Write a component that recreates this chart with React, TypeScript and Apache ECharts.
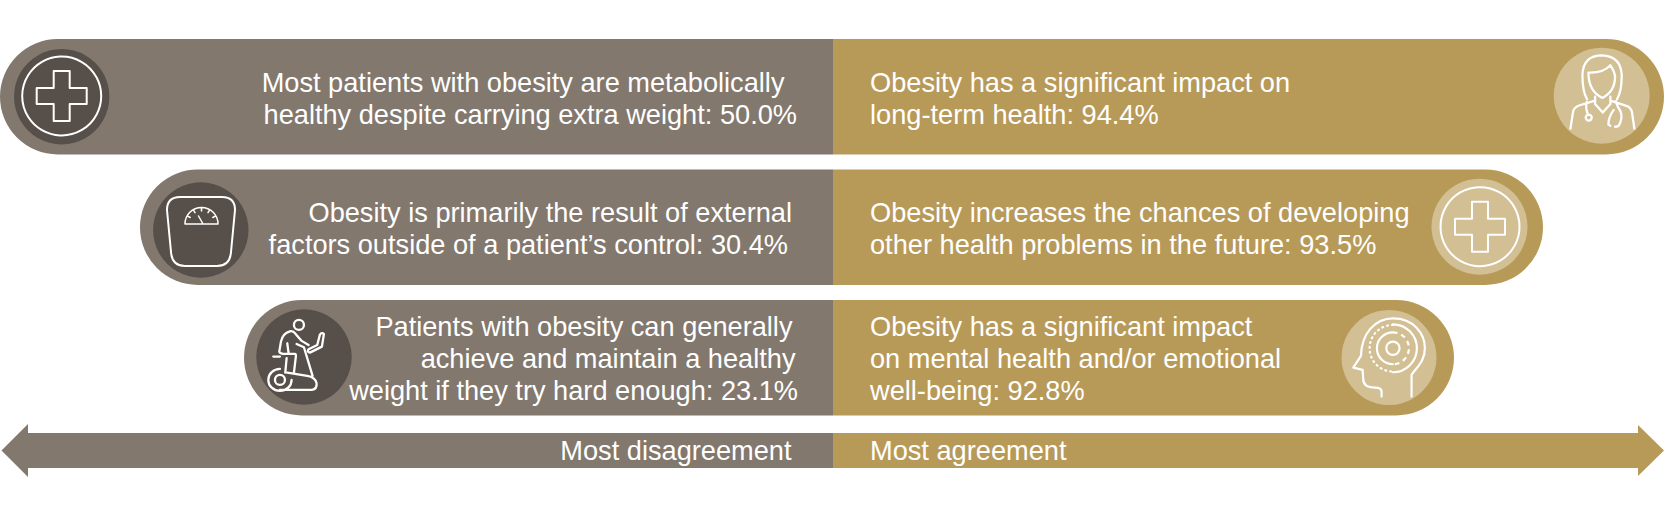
import React, { useEffect, useRef } from "react";
import * as echarts from "echarts";

const rowNames = ["row1", "row2", "row3"];
const disagreeLines = [
  ["Most patients with obesity are metabolically", "healthy despite carrying extra weight:"],
  ["Obesity is primarily the result of external", "factors outside of a patient’s control:"],
  ["Patients with obesity can generally", "achieve and maintain a healthy", "weight if they try hard enough:"],
];
const disagreePercent = ["50.0%", "30.4%", "23.1%"];
const agreeLines = [
  ["Obesity has a significant impact on", "long-term health:"],
  ["Obesity increases the chances of developing", "other health problems in the future:"],
  ["Obesity has a significant impact", "on mental health and/or emotional", "well-being:"],
];
const agreePercent = ["94.4%", "93.5%", "92.8%"];
const disagreeExtent = [-833, -693, -589];
const agreeExtent = [831, 710, 621];
const axisLabels = ["Most disagreement", "Most agreement"];

const GREY = "#82786E", DARK = "#574F49", GOLD = "#B89A58", LIGHT = "#D2BF94";
const FONT = "'Liberation Sans', Arial, sans-serif";
const FS = 27.2;

// right edge of each left-hand line, y of each line
const leftEdges = [[784.5, 797], [792, 788], [792.5, 795.5, 798]];
const lineYs = [[82.2, 114.2], [212.2, 244.2], [326.2, 358.2, 390.2]];
const RIGHT_X = 870;

const G = echarts.graphic as any;
const cross = "M-8 -25H8V-8H25V8H8V25H-8V8H-25V-8H-8Z";
G.registerShape("crossIcon", G.extendPath(cross, {}));
G.registerShape("scaleIcon", G.extendPath(
  "M180 197H222Q235 197 235 210L231 252Q230 266 217 266H185Q172 266 171 252L167 210Q167 197 180 197Z", {}));
G.registerShape("gaugeIcon", G.extendPath(
  "M185 224A16.5 16.5 0 0 1 218 224Z" +
  "M215.8 215.8L212.8 217.5M209.8 209.7L208 212.7M201.5 207.5V211M193.2 209.7L195 212.7M187.2 215.8L190.2 217.5M198.5 216L202.5 223", {}));
G.registerShape("bikeIcon", G.extendPath(
  "M222 105A15 15 0 1 1 192 105A15 15 0 1 1 222 105Z" +
  "M180 124Q158 130 153 155L148 185Q150 192 165 192H195Q198 192 198 198L192 248" +
  "M180 124Q190 122 197 132L214 152L236 165M172 160L176 190M130 200H150M170 205L166 248" +
  "M200 162L222 172L248 258" +
  "M236 178L262 165L270 134Q276 126 282 132L276 170L240 188Q230 186 236 178Z" +
  "M150 300H246Q262 298 260 280Q256 262 232 258L172 248" +
  "M185 270A35 33 0 1 1 150 237M185 270A35 33 0 0 1 150 303M165 270A15 15 0 1 1 135 270A15 15 0 1 1 165 270Z", {}));
G.registerShape("doctorIcon", G.extendPath(
  "M742 208Q728 185 728 135Q730 76 787 76Q843 78 846 135Q846 185 832 208" +
  "M746 128Q790 130 812 106Q825 125 826 140Q826 185 788 204Q746 185 746 128Z" +
  "M766 200V222L789 248L812 222V200" +
  "M692 296L700 245Q702 232 720 226L766 212M812 212L860 228Q874 232 877 248L884 296" +
  "M741 216Q736 235 745 254M756 263A9 9 0 1 1 738 263A9 9 0 1 1 756 263Z" +
  "M828 214Q834 232 842 244Q850 262 838 286Q832 292 826 290M822 240Q806 262 806 284L812 288", {}));
G.registerShape("headIcon", G.extendPath(
  "M245 320V305Q245 293 225 293Q190 293 190 268L188 240L160 233L183 198" +
  "C185 130 225 85 280 85C340 85 375 130 375 175C375 215 350 232 335 255V320" +
  "M259 175A20 20 0 1 1 299 175A20 20 0 1 1 259 175Z" +
  "M279 127A48 48 0 0 0 279 223M279 103A72 72 0 0 1 279 247", {}));
G.registerShape("headDash", G.extendPath("M279 127A48 48 0 0 1 279 223", {}));
G.registerShape("headDots", G.extendPath("M279 105A70 70 0 0 0 279 245", {}));

function textEl(text: string, x: number, y: number, align: string) {
  return { type: "text", z: 20, x, y, style: { text, fill: "#fff", fontSize: FS, fontFamily: FONT, align, verticalAlign: "middle" } };
}
function iconEl(type: string, x: number, y: number, s: number, extra: any = {}, width = 2) {
  return { type, z: 20, x, y, scaleX: s, scaleY: s, style: { fill: "none", stroke: "#fff", lineWidth: width / s, lineJoin: "round", lineCap: "round", ...extra } };
}
function disc(cx: number, cy: number, r: number, fill: string) {
  return { type: "circle", z: 10, shape: { cx, cy, r }, style: { fill } };
}
function ring(cx: number, cy: number, r: number) {
  return { type: "circle", z: 20, shape: { cx, cy, r }, style: { fill: "none", stroke: "#fff", lineWidth: 2 } };
}

export default function App() {
  const ref = useRef<HTMLDivElement>(null);
  useEffect(() => {
    document.body.style.margin = "0";
    const chart = echarts.init(ref.current!, null, { renderer: "svg" });
    const texts: any[] = [];
    disagreeLines.forEach((lines, i) => {
      lines.forEach((l, j) => {
        const t = j === lines.length - 1 ? `${l} ${disagreePercent[i]}` : l;
        texts.push(textEl(t, leftEdges[i][j], lineYs[i][j], "right"));
      });
    });
    agreeLines.forEach((lines, i) => {
      lines.forEach((l, j) => {
        const t = j === lines.length - 1 ? `${l} ${agreePercent[i]}` : l;
        texts.push(textEl(t, RIGHT_X, lineYs[i][j], "left"));
      });
    });
    chart.setOption({
      animation: false,
      grid: { left: 0, right: 0, top: 31.5, height: 391.5 },
      xAxis: { type: "value", min: -833, max: 831, show: false },
      yAxis: { type: "category", inverse: true, data: rowNames, show: false },
      series: [
        { type: "bar", data: disagreeExtent, barWidth: 115.5, barGap: "-100%", silent: true,
          itemStyle: { color: GREY, borderRadius: [57.75, 0, 0, 57.75] } },
        { type: "bar", data: agreeExtent, barWidth: 115.5, barGap: "-100%", silent: true,
          itemStyle: { color: GOLD, borderRadius: [0, 57.75, 57.75, 0] } },
      ],
      graphic: [
        { type: "polygon", z: 10, shape: { points: [[1.5, 450.5], [28, 424], [28, 433], [833, 433], [833, 468], [28, 468], [28, 477]] }, style: { fill: GREY } },
        { type: "polygon", z: 10, shape: { points: [[1664, 450.5], [1638, 425], [1638, 433], [833, 433], [833, 468], [1638, 468], [1638, 476]] }, style: { fill: GOLD } },
        disc(61.7, 96.7, 47.7, DARK), disc(200.8, 230, 47.7, DARK), disc(304, 357, 47.7, DARK),
        disc(1601.7, 95.7, 48, LIGHT), disc(1479.5, 226.7, 48, LIGHT), disc(1389, 357.5, 47.5, LIGHT),
        ring(61.7, 96, 39.5), iconEl("crossIcon", 61.7, 96, 1),
        ring(1480, 226.7, 39.5), iconEl("crossIcon", 1480, 226.7, 1),
        iconEl("scaleIcon", 0, 0, 1),
        iconEl("gaugeIcon", 0, 0, 1, {}, 1.5),
        iconEl("bikeIcon", 230, 290, 1 / 3, {}, 2.3),
        iconEl("doctorIcon", 1340, 30, 1 / 3, {}, 2.3),
        iconEl("headIcon", 1300, 290, 1 / 3, {}, 2.2),
        iconEl("headDash", 1300, 290, 1 / 3, { lineDash: [14, 12], lineCap: "butt" }, 2.2),
        iconEl("headDots", 1300, 290, 1 / 3, { lineDash: [3, 12] }, 2.2),
        ...texts,
        textEl(axisLabels[0], 791.5, 450.2, "right"),
        textEl(axisLabels[1], 870, 450.2, "left"),
      ],
    });
    return () => chart.dispose();
  }, []);
  return <div ref={ref} style={{ width: 1664, height: 521 }} />;
}
